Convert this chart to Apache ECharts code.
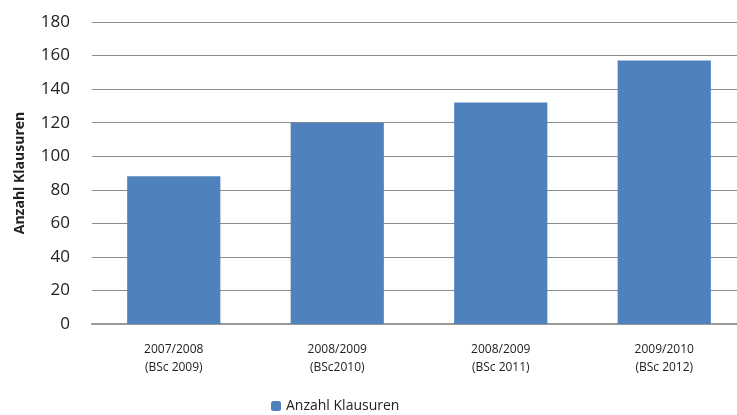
<!DOCTYPE html>
<html>
<head>
<meta charset="utf-8">
<script src="https://cdn.jsdelivr.net/npm/echarts@6/dist/echarts.min.js"></script>
<style>
    html, body { margin: 0; padding: 0; background: #fff; overflow: hidden; }
    /* plot area runs past the right edge in the original */
    #chart { width: 746px; height: 415px; }
</style>
</head>
<body>
<div id="chart"></div>
<script>
    var categories = ['2007/2008\n(BSc 2009)', '2008/2009\n(BSc2010)', '2008/2009\n(BSc 2011)', '2009/2010\n(BSc 2012)'];
    var klausuren = [88, 120, 132, 157];
    var seriesName = 'Anzahl Klausuren';

    var fontFam = '"Open Sans", "Noto Sans", sans-serif';
    var chart = echarts.init(document.getElementById('chart'));
    chart.setOption({
        animation: false,
        grid: { left: 92, right: 0, top: 22, bottom: 91 },
        legend: {
            data: [seriesName],
            bottom: -3,
            left: 266,
            itemWidth: 10,
            itemHeight: 10,
            itemGap: 4,
            textStyle: { fontFamily: fontFam, fontSize: 14, color: '#222' }
        },
        xAxis: {
            type: 'category',
            data: categories,
            axisTick: { show: false },
            axisLine: { lineStyle: { color: '#999', width: 2 } },
            axisLabel: { fontFamily: fontFam, fontSize: 12, color: '#222', margin: 17, lineHeight: 18 }
        },
        yAxis: {
            type: 'value',
            min: 0,
            max: 180,
            interval: 20,
            name: seriesName,
            nameLocation: 'middle',
            nameGap: 65,
            nameTextStyle: { fontFamily: fontFam, fontSize: 14, fontWeight: 'bold', color: '#222' },
            axisLine: { show: false },
            axisTick: { show: false },
            axisLabel: { fontFamily: fontFam, fontSize: 17, color: '#222', margin: 22 },
            splitLine: { lineStyle: { color: '#8c8c8c', width: 1 } }
        },
        series: [{
            name: seriesName,
            type: 'bar',
            data: klausuren,
            barWidth: '57%',
            itemStyle: { color: '#4f81bd' }
        }]
    });
</script>
</body>
</html>
